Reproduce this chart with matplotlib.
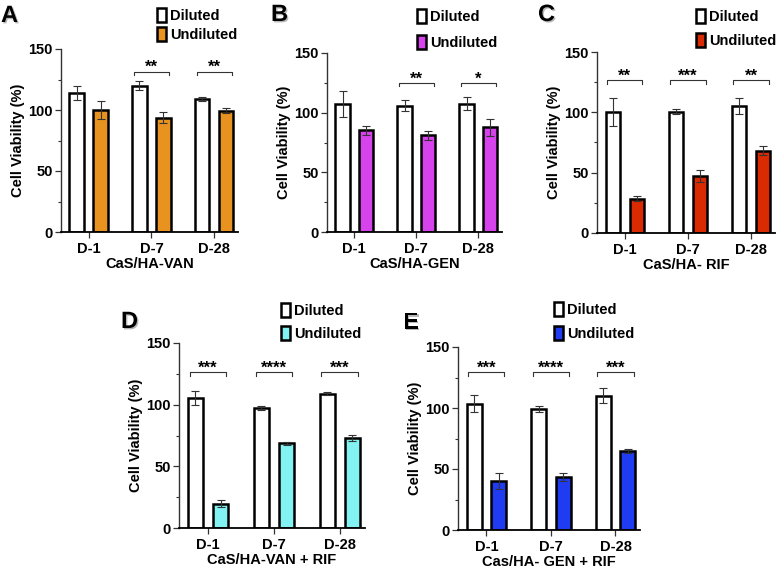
import matplotlib
matplotlib.use("Agg")
import matplotlib.pyplot as plt
import matplotlib.patheffects as pe
from matplotlib.patches import Patch
import numpy as np

plt.rcParams['font.family'] = ['Liberation Sans', 'DejaVu Sans']
plt.rcParams['font.weight'] = 'bold'
plt.rcParams['axes.labelweight'] = 'bold'

W, H = 779, 567

# ---- data ----
days = ["D-1", "D-7", "D-28"]

a_dil = [114, 120, 109]
a_dil_err = [5.5, 3.5, 2]
a_und = [100, 93.5, 99.3]
a_und_err = [7, 4.5, 2]
a_sig = ["", "**", "**"]

b_dil = [107.4, 106, 107.4]
b_dil_err = [11, 4.5, 5.5]
b_und = [85.2, 81, 87.7]
b_und_err = [3.5, 4, 7]
b_sig = ["", "**", "*"]

c_dil = [100, 100.5, 105.3]
c_dil_err = [11.5, 2, 6.5]
c_und = [28.5, 47.2, 68.3]
c_und_err = [1.8, 5, 4]
c_sig = ["**", "***", "**"]

d_dil = [105.4, 97.3, 109]
d_dil_err = [6, 1.5, 1]
d_und = [19.7, 68.6, 72.7]
d_und_err = [3, 1.5, 2.5]
d_sig = ["***", "****", "***"]

e_dil = [103.6, 99.1, 110]
e_dil_err = [7, 2.5, 6]
e_und = [40.5, 43.5, 65]
e_und_err = [6.5, 3.5, 1.5]
e_sig = ["***", "****", "***"]

# panel layout: letter, xlabel, colour, axes box (px: left, top, right, bottom),
# letter pos, legend pos, legend row spacing, bracket height
panels = [
    ("A", "CaS/HA-VAN", "#E8931F", a_dil, a_dil_err, a_und, a_und_err, a_sig,
     (61, 49, 238, 232), (1, 4), (157, 8), 0.3, 131.5),
    ("B", "CaS/HA-GEN", "#D642EC", b_dil, b_dil_err, b_und, b_und_err, b_sig,
     (327, 53, 502, 232), (271, 3), (417, 9), 0.75, 125),
    ("C", "CaS/HA- RIF", "#DA2A02", c_dil, c_dil_err, c_und, c_und_err, c_sig,
     (597, 52, 775, 233), (538, 3), (696, 9), 0.6, 126.5),
    ("D", "CaS/HA-VAN + RIF", "#82F2F2", d_dil, d_dil_err, d_und, d_und_err, d_sig,
     (179, 343, 365, 528), (121, 310), (281, 303), 0.55, 126.5),
    ("E", "Cas/HA- GEN + RIF", "#1F3CF2", e_dil, e_dil_err, e_und, e_und_err, e_sig,
     (458, 347, 640, 530), (403, 311), (554, 302), 0.6, 129.5),
]

fig = plt.figure(figsize=(W / 100, H / 100), dpi=100)

x = np.arange(len(days))
off = 0.19
bw = 0.23

for (letter, xlab, col, dil, dil_err, und, und_err, sig,
     box, lpos, legpos, legspace, br_y) in panels:
    l, t, r, b = box
    ax = fig.add_axes([l / W, 1 - b / H, (r - l) / W, (b - t) / H])

    ax.bar(x - off, dil, bw, color="white", edgecolor="black", linewidth=1.8, zorder=2)
    ax.bar(x + off, und, bw, color=col, edgecolor="black", linewidth=1.8, zorder=2)
    ax.errorbar(x - off, dil, yerr=dil_err, fmt="none", ecolor="#333333",
                elinewidth=0.8, capsize=3, capthick=0.8, zorder=3)
    ax.errorbar(x + off, und, yerr=und_err, fmt="none", ecolor="#333333",
                elinewidth=0.8, capsize=3, capthick=0.8, zorder=3)

    # significance brackets
    for i, s in enumerate(sig):
        if not s:
            continue
        x0, x1 = i - 0.28, i + 0.28
        ax.plot([x0, x0, x1, x1], [br_y - 3, br_y, br_y, br_y - 3],
                color="#333333", lw=0.8, zorder=3)
        ax.text(i, br_y - 0.5, s, ha="center", va="baseline",
                fontsize=12, fontweight="bold")

    ax.set_ylim(0, 150)
    ax.set_xlim(-0.44, 2.38)
    ax.set_yticks([0, 50, 100, 150])
    ax.set_yticks([25, 75, 125], minor=True)
    ax.set_xticks(x)
    ax.set_xticklabels(days, fontsize=10.5, fontweight="bold")
    ax.tick_params(axis="y", labelsize=10.5, length=4, width=0.9, pad=2, color="#333333")
    ax.tick_params(axis="y", which="minor", length=2.5, width=0.8, color="#333333")
    ax.tick_params(axis="x", length=4, width=0.9, pad=3, color="#333333")
    for lab in ax.get_yticklabels():
        lab.set_fontweight("bold")
    ax.spines["top"].set_visible(False)
    ax.spines["right"].set_visible(False)
    ax.spines["left"].set_linewidth(1.0)
    ax.spines["left"].set_color("#333333")
    ax.spines["bottom"].set_linewidth(1.3)
    ax.set_ylabel("Cell Viability (%)", fontsize=10.5, fontweight="bold", labelpad=2)
    ax.set_xlabel(xlab, fontsize=10.5, fontweight="bold", labelpad=1)

    handles = [Patch(facecolor="white", edgecolor="black", linewidth=1.8, label="Diluted"),
               Patch(facecolor=col, edgecolor="black", linewidth=1.8, label="Undiluted")]
    ax.legend(handles=handles, loc="upper left",
              bbox_to_anchor=(legpos[0] / W, 1 - legpos[1] / H),
              bbox_transform=fig.transFigure, frameon=False,
              prop={"size": 10.5, "weight": "bold"},
              handlelength=0.6, handleheight=1.1, handletextpad=0.3,
              labelspacing=legspace, borderpad=0, borderaxespad=0)

    fig.text(lpos[0] / W, 1 - lpos[1] / H, letter, ha="left", va="top",
             fontsize=17, fontweight="bold",
             path_effects=[pe.SimplePatchShadow(offset=(1, -1), shadow_rgbFace="#888888", alpha=0.6),
                           pe.Normal()])

fig.savefig("out.png", dpi=100)
